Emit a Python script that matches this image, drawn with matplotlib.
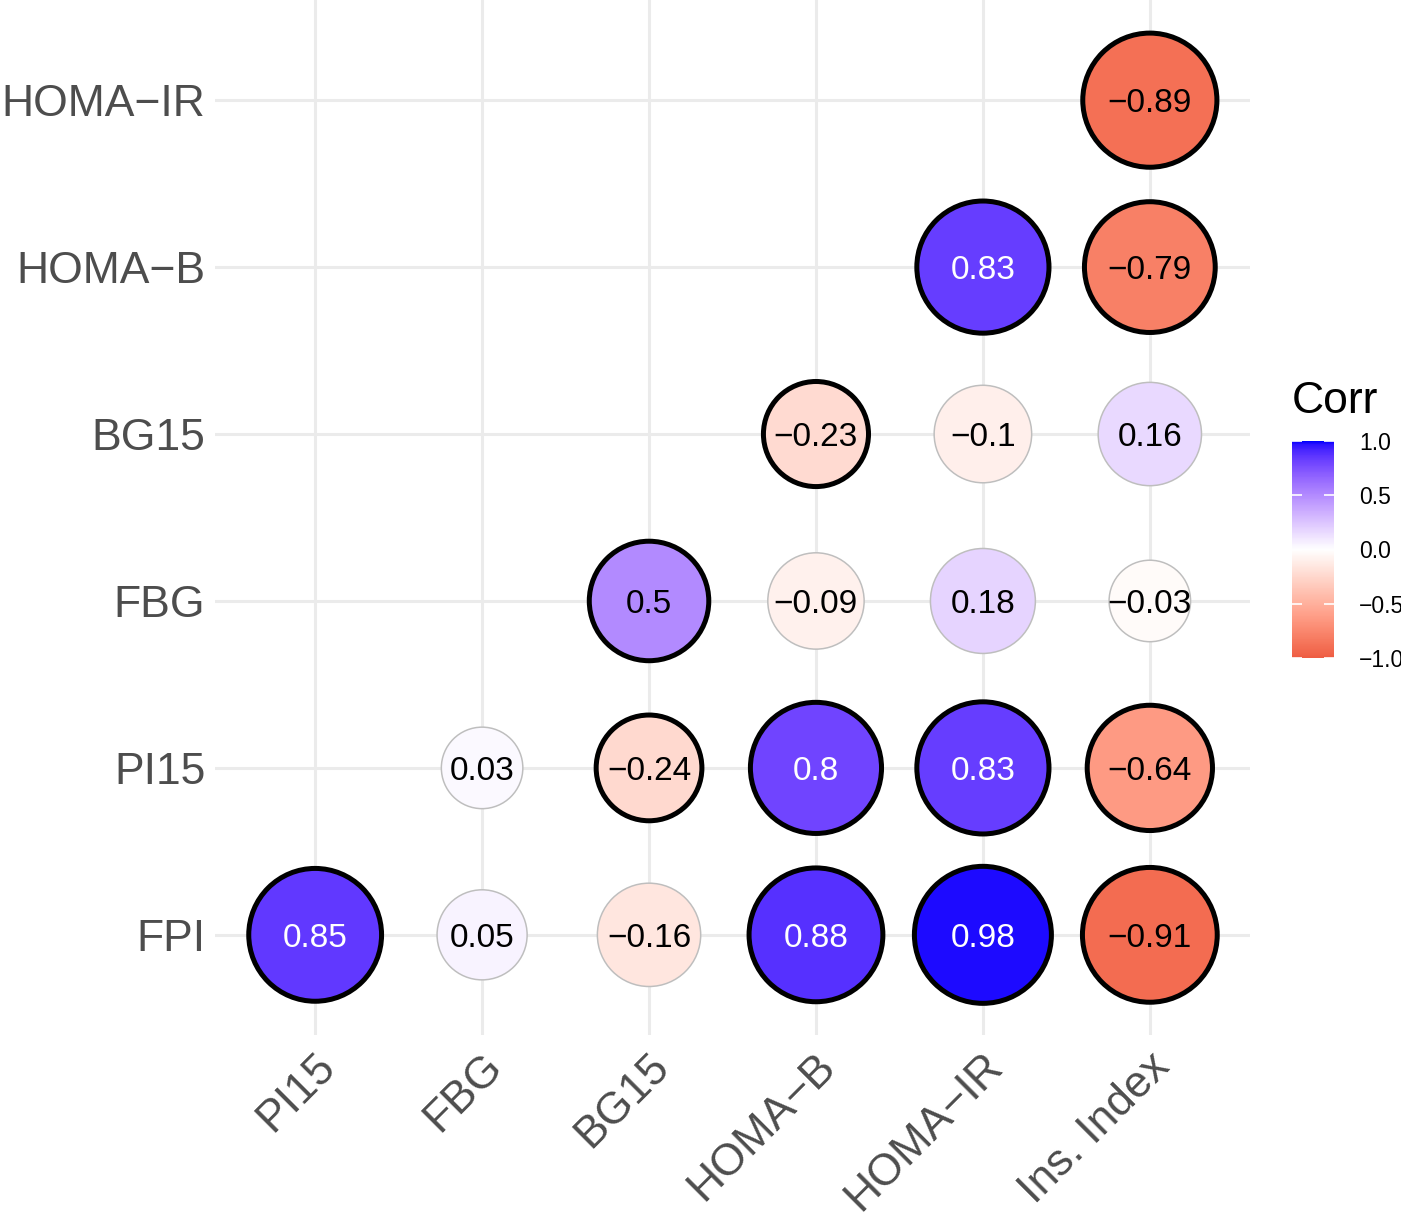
import numpy as np
import matplotlib
matplotlib.use('Agg')
import matplotlib.pyplot as plt
from matplotlib.colors import ListedColormap, Normalize
from matplotlib.cm import ScalarMappable
import matplotlib.transforms as mtransforms

plt.rcParams['font.family'] = ['Liberation Sans', 'DejaVu Sans']

x_labels = ['PI15', 'FBG', 'BG15', 'HOMA\u2212B', 'HOMA\u2212IR', 'Ins. Index']
y_labels = ['FPI', 'PI15', 'FBG', 'BG15', 'HOMA\u2212B', 'HOMA\u2212IR']

# one row per y label (bottom to top), one column per x label
nan = np.nan
corr = [
    [0.85, 0.05, -0.16, 0.88, 0.98, -0.91],
    [nan, 0.03, -0.24, 0.80, 0.83, -0.64],
    [nan, nan, 0.50, -0.09, 0.18, -0.03],
    [nan, nan, nan, -0.23, -0.10, 0.16],
    [nan, nan, nan, nan, 0.83, -0.79],
    [nan, nan, nan, nan, nan, -0.89],
]
significant = [
    [1, 0, 0, 1, 1, 1],
    [0, 0, 1, 1, 1, 1],
    [0, 0, 1, 0, 0, 0],
    [0, 0, 0, 1, 0, 0],
    [0, 0, 0, 0, 1, 1],
    [0, 0, 0, 0, 0, 1],
]


# ggplot style gradient2 (tomato2 - white - blue), interpolated in Lab
def srgb_to_lab(rgb):
    c = np.asarray(rgb, float)
    c = np.where(c <= 0.04045, c / 12.92, ((c + 0.055) / 1.055) ** 2.4)
    m = np.array([[0.4124, 0.3576, 0.1805],
                  [0.2126, 0.7152, 0.0722],
                  [0.0193, 0.1192, 0.9505]])
    xyz = m @ c / np.array([0.95047, 1.0, 1.08883])
    f = np.where(xyz > 0.008856, np.cbrt(xyz), 7.787 * xyz + 16 / 116)
    return np.array([116 * f[1] - 16, 500 * (f[0] - f[1]), 200 * (f[1] - f[2])])


def lab_to_srgb(lab):
    L, a, b = lab
    fy = (L + 16) / 116
    f = np.array([fy + a / 500, fy, fy - b / 200])
    xyz = np.where(f ** 3 > 0.008856, f ** 3, (f - 16 / 116) / 7.787)
    xyz = xyz * np.array([0.95047, 1.0, 1.08883])
    m = np.array([[3.2406, -1.5372, -0.4986],
                  [-0.9689, 1.8758, 0.0415],
                  [0.0557, -0.2040, 1.0570]])
    c = m @ xyz
    c = np.where(c <= 0.0031308, 12.92 * c, 1.055 * np.clip(c, 0, None) ** (1 / 2.4) - 0.055)
    return np.clip(c, 0, 1)


low = srgb_to_lab([238 / 255, 92 / 255, 66 / 255])
mid = srgb_to_lab([1, 1, 1])
high = srgb_to_lab([0, 0, 1])
cols = []
for t in np.linspace(-1, 1, 256):
    if t < 0:
        lab = mid + (low - mid) * (-t)
    else:
        lab = mid + (high - mid) * t
    cols.append(lab_to_srgb(lab))
cmap = ListedColormap(cols)
norm = Normalize(-1, 1)

fig = plt.figure(figsize=(14.01, 12.14), dpi=100)
ax = fig.add_axes([215 / 1401, 179 / 1214, 1035 / 1401, 1035 / 1214])

xs, ys, vals, sig = [], [], [], []
for i in range(len(y_labels)):
    for j in range(len(x_labels)):
        if not np.isnan(corr[i][j]):
            xs.append(j + 1)
            ys.append(i + 1)
            vals.append(corr[i][j])
            sig.append(significant[i][j])
vals = np.array(vals)
sig = np.array(sig, bool)

# circle diameter in px from |corr| (area scale over data range)
absv = np.abs(vals)
scaled = (absv - absv.min()) / (absv.max() - absv.min())
diam = 83 + 59 * np.sqrt(scaled)
lw_px = np.where(sig, 5.0, 1.5)
sizes = ((diam - lw_px) * 0.72) ** 2

ax.scatter(xs, ys, s=sizes, c=vals, cmap=cmap, norm=norm,
           edgecolors=np.where(sig, 'black', '#BEBEBE'),
           linewidths=lw_px * 0.72, zorder=3)

for x, y, v in zip(xs, ys, vals):
    txt = f'{v:g}'.replace('-', '\u2212')
    ax.text(x, y, txt, ha='center', va='center_baseline', fontsize=24,
            color='white' if v > 0.7 else 'black', zorder=4)

ax.set_xlim(0.4, 6.6)
ax.set_ylim(0.4, 6.6)
ax.set_xticks(range(1, 7))
ax.set_yticks(range(1, 7))
ax.set_yticklabels(y_labels, fontsize=32, color='#4D4D4D')
ax.set_xticklabels([])
ax.tick_params(axis='x', length=0)
ax.tick_params(axis='y', length=0, pad=7)

# rotated x labels, shifted like ggplot's hjust = 1
shift = mtransforms.ScaledTranslation(28 / 100, -10.5 / 100, fig.dpi_scale_trans)
for j, lbl in enumerate(x_labels):
    ax.text(j + 1, 0, lbl, fontsize=32, color='#4D4D4D', rotation=45,
            ha='right', va='top', transform=ax.get_xaxis_transform() + shift)

ax.grid(True, color='#EBEBEB', linewidth=2.2, zorder=0)
ax.set_axisbelow(True)
for s in ax.spines.values():
    s.set_visible(False)

# colour bar
cax = fig.add_axes([1292 / 1401, (1214 - 658) / 1214, 42 / 1401, 217 / 1214])
cb = fig.colorbar(ScalarMappable(norm=norm, cmap=cmap), cax=cax)
cb.outline.set_visible(False)
cb.set_ticks([-1, -0.5, 0, 0.5, 1])
cb.set_ticklabels(['\u22121.0', '\u22120.5', '0.0', '0.5', '1.0'])
cax.tick_params(labelsize=16.5, length=7, width=1.2, color='white',
                direction='in', left=True, right=True, pad=18)
fig.text(1292 / 1401, (1214 - 413) / 1214, 'Corr', fontsize=32, ha='left',
         va='baseline')

fig.savefig('out.png', dpi=100)
